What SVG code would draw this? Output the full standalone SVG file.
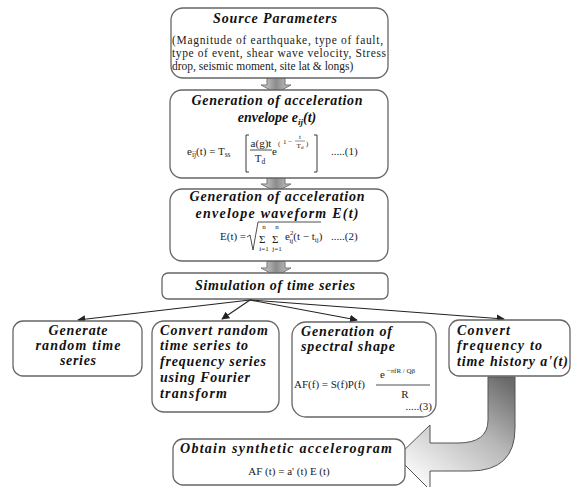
<svg xmlns="http://www.w3.org/2000/svg" width="573" height="487" viewBox="0 0 573 487">
<defs>
<linearGradient id="gBlock" x1="0" y1="0" x2="1" y2="0">
<stop offset="0" stop-color="#d8d8d8"/>
<stop offset="0.5" stop-color="#8c8c8c"/>
<stop offset="1" stop-color="#c8c8c8"/>
</linearGradient>
<linearGradient id="gBig" x1="0.9" y1="0" x2="0.2" y2="0.9">
<stop offset="0" stop-color="#6a6a6a"/>
<stop offset="0.45" stop-color="#b8b8b8"/>
<stop offset="1" stop-color="#f7f7f7"/>
</linearGradient>
<marker id="ah" viewBox="0 0 10 10" refX="9" refY="5" markerWidth="8" markerHeight="8" markerUnits="userSpaceOnUse" orient="auto">
<path d="M0,0 L10,5 L0,10 Z" fill="#222"/>
</marker>
</defs>
<style>
.box{fill:#fff;stroke:#666;stroke-width:1.3}
.t{font-family:"Liberation Serif","Times New Roman",serif;font-weight:bold;font-style:italic;font-size:14px;fill:#111}
.b{font-family:"Liberation Serif","Times New Roman",serif;font-size:11.5px;fill:#222}
.m{font-family:"Liberation Serif","Times New Roman",serif;font-size:11px;fill:#222}
.s{font-family:"Liberation Serif","Times New Roman",serif;font-size:7px;fill:#222}
.blk{fill:url(#gBlock);stroke:#777;stroke-width:1}
.c{stroke:#222;stroke-width:1.1;fill:none;marker-end:url(#ah)}
</style>
<rect width="573" height="487" fill="#fff"/>

<!-- block arrows -->
<g id="blockArrows">
<path class="blk" d="M267,78 L285,78 L285,85 L291,85 L276,93 L261,85 L267,85 Z"/>
<path class="blk" d="M267,178 L285,178 L285,184 L291,184 L276,192 L261,184 L267,184 Z"/>
<path class="blk" d="M267,261 L285,261 L285,268 L291,268 L276,276 L261,268 L267,268 Z"/>
</g>

<g id="source">
<rect class="box" x="171" y="8" width="217" height="70" rx="12"/>
<text class="t" x="275" y="23" text-anchor="middle" font-size="13" textLength="124">Source Parameters</text>
<text class="b" x="172" y="44" textLength="211">(Magnitude of earthquake, type of fault,</text>
<text class="b" x="172" y="57" textLength="214">type of event, shear wave velocity, Stress</text>
<text class="b" x="172" y="70">drop, seismic moment, site lat &amp; longs)</text>
</g>

<g id="envelope">
<rect class="box" x="170" y="90" width="218" height="88" rx="12"/>
<text class="t" x="277" y="105" text-anchor="middle" textLength="171">Generation of acceleration</text>
<text class="t" x="277" y="122" text-anchor="middle">envelope e<tspan font-size="9" dy="3">ij</tspan><tspan dy="-3">(t)</tspan></text>
<text class="m" x="187" y="155">e<tspan font-size="7.5" dy="2">ij</tspan><tspan dy="-2">(t) = T</tspan><tspan font-size="7.5" dy="2">ss</tspan></text>
<path d="M249,135 L246,135 L246,172 L249,172 M314,135 L317,135 L317,172 L314,172" fill="none" stroke="#222" stroke-width="0.9"/>
<text class="m" x="261" y="147" text-anchor="middle">a(g)t</text>
<line x1="250" y1="150" x2="272" y2="150" stroke="#222" stroke-width="0.8"/>
<text class="m" x="260" y="162" text-anchor="middle">T<tspan font-size="7.5" dy="2">d</tspan></text>
<text class="m" x="272" y="155">e</text>
<text class="s" x="278" y="146" font-size="13">(</text>
<text class="s" x="283" y="144" font-size="8">1 −</text>
<text class="s" x="300" y="139" text-anchor="middle" font-size="8">t</text>
<line x1="295" y1="141" x2="305" y2="141" stroke="#222" stroke-width="0.5"/>
<text class="s" x="300" y="148" text-anchor="middle">T<tspan font-size="5" dy="1">d</tspan></text>
<text class="s" x="306" y="146" font-size="13">)</text>
<text class="m" x="331" y="155">.....(1)</text>
</g>

<g id="waveform">
<rect class="box" x="170" y="189" width="218" height="72" rx="12"/>
<text class="t" x="277" y="201" text-anchor="middle" textLength="175">Generation of acceleration</text>
<text class="t" x="277" y="218" text-anchor="middle" textLength="163">envelope waveform E(t)</text>
<text class="m" x="220" y="240">E(t) =</text>
<path d="M247,237 L250,235 L253,250 L258,222 L321,222" fill="none" stroke="#222" stroke-width="0.8"/>
<text class="m" x="259" y="243" font-size="13">Σ</text>
<text class="s" x="264" y="229" text-anchor="middle">n</text>
<text class="s" x="264" y="251" text-anchor="middle">i=1</text>
<text class="m" x="272" y="243" font-size="13">Σ</text>
<text class="s" x="277" y="229" text-anchor="middle">n</text>
<text class="s" x="277" y="251" text-anchor="middle">j=1</text>
<text class="m" x="285" y="240">e<tspan font-size="7" dy="-5">2</tspan><tspan font-size="7" dx="-4" dy="8">ij</tspan><tspan dy="-3">(t − t</tspan><tspan font-size="7" dy="2">ij</tspan><tspan dy="-2">)</tspan></text>
<text class="m" x="331" y="240">.....(2)</text>
</g>

<g id="simulation">
<rect class="box" x="162" y="273" width="226" height="26" rx="6"/>
<text class="t" x="275" y="290" text-anchor="middle" textLength="160">Simulation of time series</text>
</g>

<g id="connectors">
<line class="c" x1="250" y1="300" x2="78" y2="320"/>
<line class="c" x1="250" y1="300" x2="222" y2="319"/>
<line class="c" x1="250" y1="300" x2="357" y2="320"/>
<line class="c" x1="250" y1="300" x2="504" y2="319"/>
</g>

<g id="randomSeries">
<rect class="box" x="13" y="321" width="129" height="55" rx="10"/>
<text class="t" x="78" y="335" text-anchor="middle" textLength="59">Generate</text>
<text class="t" x="78" y="350" text-anchor="middle" textLength="85">random time</text>
<text class="t" x="78" y="365" text-anchor="middle" textLength="36">series</text>
</g>

<g id="fourier">
<rect class="box" x="152" y="321" width="127" height="91" rx="12"/>
<text class="t" x="160" y="335" textLength="108">Convert random</text>
<text class="t" x="160" y="350" textLength="88">time series to</text>
<text class="t" x="160" y="366" textLength="106">frequency series</text>
<text class="t" x="160" y="382" textLength="90">using Fourier</text>
<text class="t" x="160" y="398" textLength="67">transform</text>
</g>

<g id="spectral">
<rect class="box" x="292" y="322" width="144" height="95" rx="14"/>
<text class="t" x="301" y="336" textLength="91">Generation of</text>
<text class="t" x="301" y="351" textLength="94">spectral shape</text>
<text class="m" x="294" y="388">AF(f) = S(f)P(f)</text>
<text class="m" x="380" y="378" font-size="12">e<tspan font-size="7" dy="-5"> −πfR / Qβ</tspan></text>
<line x1="376" y1="385" x2="430" y2="385" stroke="#222" stroke-width="0.8"/>
<text class="m" x="405" y="398" text-anchor="middle" font-size="12">R</text>
<text class="m" x="432" y="410" text-anchor="end">.....(3)</text>
</g>

<g id="timeHistory">
<rect class="box" x="449" y="320" width="121" height="56" rx="10"/>
<text class="t" x="457" y="335" textLength="53">Convert</text>
<text class="t" x="457" y="350" textLength="85">frequency to</text>
<text class="t" x="457" y="366" textLength="111">time history a'(t)</text>
</g>

<g id="bigArrow">
<path d="M488,377 L515,377 L515,428 Q515,471 470,471 L430,471 L430,490 L397,457 L430,425 L430,443 L458,443 Q488,443 488,420 Z" fill="url(#gBig)" stroke="#555" stroke-width="1"/>
</g>

<g id="accelerogram">
<rect class="box" x="173" y="439" width="232" height="46" rx="10"/>
<text class="t" x="180" y="453" textLength="212">Obtain synthetic accelerogram</text>
<text class="m" x="289" y="475" text-anchor="middle">AF (t) = a' (t) E (t)</text>
</g>
</svg>
